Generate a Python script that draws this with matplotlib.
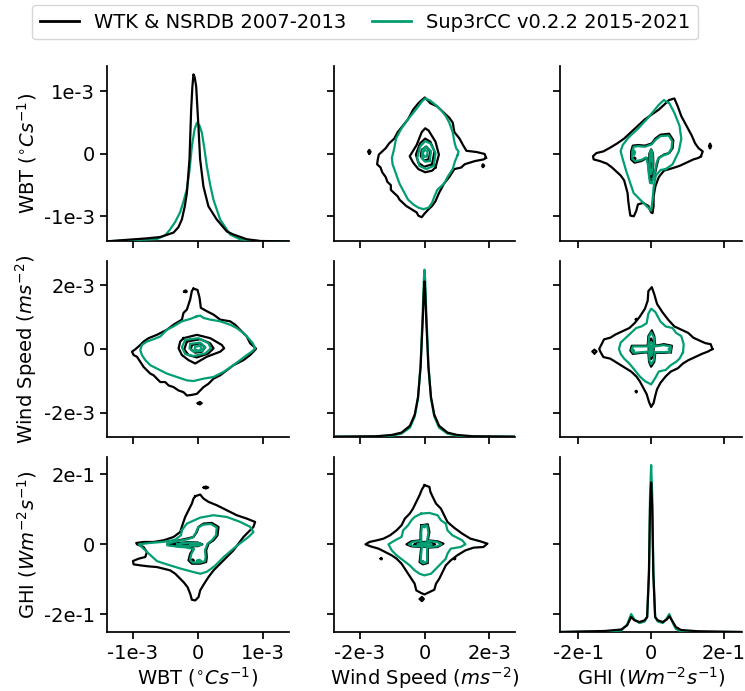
import matplotlib.pyplot as plt
from matplotlib.lines import Line2D

BLACK = '#000000'
GREEN = '#029e73'

# variables (values below are in units of the scale factor)
var_labels = [r'WBT ($^{\circ}Cs^{-1}$)', r'Wind Speed ($ms^{-2}$)', r'GHI ($Wm^{-2}s^{-1}$)']
var_scale = [1e-3, 1e-3, 1e-1]
xlims = [1.4, 2.8, 2.5]
ylims = [1.4, 2.75, 2.5]
tick_pos = [[-1, 0, 1], [-2, 0, 2], [-2, 0, 2]]
tick_labels = [['-1e-3', '0', '1e-3'], ['-2e-3', '0', '2e-3'], ['-2e-1', '0', '2e-1']]
series_names = ['WTK & NSRDB 2007-2013', 'Sup3rCC v0.2.2 2015-2021']

# diagonal densities
wbt_x_wtk = [-1.40, -0.785, -0.58, -0.375, -0.30, -0.246, -0.20, -0.169, -0.129, -0.103, -0.085,
             -0.068, -0.05, -0.026, 0.009, 0.035, 0.086, 0.163, 0.29, 0.446, 0.548, 0.754, 0.96, 1.40]
wbt_d_wtk = [0, 0.057, 0.082, 0.167, 0.27, 0.42, 0.68, 0.93, 1.57, 2.53, 2.95,
             3.20, 3.15, 2.97, 2.20, 1.57, 1.05, 0.67, 0.42, 0.19, 0.13, 0.04, 0.006, 0]
wbt_x_sup = [-1.4, -0.63, -0.50, -0.426, -0.35, -0.272, -0.22, -0.169, -0.13, -0.092, -0.05, -0.015,
             0.025, 0.062, 0.10, 0.138, 0.19, 0.24, 0.343, 0.497, 0.65, 0.96, 1.4]
wbt_d_sup = [0, 0.044, 0.12, 0.23, 0.37, 0.56, 0.77, 1.0, 1.35, 1.82, 2.15, 2.27,
             2.22, 2.08, 1.78, 1.44, 1.08, 0.80, 0.42, 0.13, 0.04, 0.005, 0]

wind_x = [-2.8, -1.5, -1.01, -0.71, -0.45, -0.30, -0.20, -0.12, -0.05, -0.02, 0,
          0.02, 0.05, 0.12, 0.20, 0.30, 0.45, 0.71, 1.01, 1.5, 2.8]
wind_d_wtk = [0, 0.008, 0.036, 0.086, 0.23, 0.47, 0.84, 1.48, 2.55, 3.10, 3.30,
              3.10, 2.55, 1.48, 0.84, 0.47, 0.23, 0.086, 0.036, 0.008, 0]
wind_d_sup = [0, 0.004, 0.02, 0.064, 0.19, 0.43, 0.81, 1.54, 2.74, 3.35, 3.55,
              3.35, 2.74, 1.54, 0.81, 0.43, 0.19, 0.064, 0.02, 0.004, 0]

ghi_x = [-2.5, -1.28, -0.82, -0.66, -0.55, -0.46, -0.32, -0.18, -0.11, -0.06, -0.03, 0,
         0.03, 0.06, 0.11, 0.18, 0.32, 0.43, 0.50, 0.60, 0.68, 0.82, 1.28, 2.5]
ghi_d_wtk = [0, 0.04, 0.10, 0.27, 0.60, 0.47, 0.40, 0.47, 0.60, 2.32, 5.0, 6.0,
             5.0, 2.32, 0.60, 0.47, 0.40, 0.50, 0.63, 0.40, 0.20, 0.08, 0.03, 0]
ghi_d_sup = [0, 0.02, 0.06, 0.30, 0.72, 0.50, 0.36, 0.42, 0.60, 2.5, 5.5, 6.7,
             5.5, 2.5, 0.60, 0.42, 0.36, 0.55, 0.72, 0.35, 0.12, 0.03, 0.0, 0]

# KDE contour outlines, (x, y) with lower-index variable on x
wbt_wind_wtk = [
    [(-0.067, 1.894), (-0.005, 1.852), (0.026, 1.608), (0.046, 1.291), (0.138, 1.185), (0.241, 1.079),
     (0.344, 0.921), (0.497, 0.868), (0.574, 0.762), (0.651, 0.603), (0.754, 0.392), (0.805, 0.180),
     (0.897, 0.011), (0.856, -0.085), (0.805, -0.190), (0.703, -0.349), (0.549, -0.508), (0.446, -0.667),
     (0.344, -0.825), (0.241, -0.931), (0.164, -1.090), (0.087, -1.196), (0.036, -1.302), (-0.015, -1.407),
     (-0.092, -1.439), (-0.169, -1.460), (-0.221, -1.354), (-0.297, -1.302), (-0.374, -1.196),
     (-0.451, -1.143), (-0.503, -1.037), (-0.579, -1.037), (-0.631, -0.931), (-0.682, -0.825),
     (-0.733, -0.772), (-0.785, -0.667), (-0.836, -0.561), (-0.887, -0.402), (-0.938, -0.243),
     (-0.990, -0.190), (-1.015, -0.085), (-0.964, -0.011), (-0.887, 0.127), (-0.836, 0.233),
     (-0.759, 0.339), (-0.631, 0.444), (-0.477, 0.603), (-0.374, 0.762), (-0.246, 0.921),
     (-0.221, 1.132), (-0.169, 1.238), (-0.118, 1.556), (-0.092, 1.820)],
    [(-0.221, 0.339), (-0.015, 0.444), (0.190, 0.339), (0.369, 0.127), (0.405, 0.021), (0.344, -0.085),
     (0.138, -0.243), (-0.041, -0.455), (-0.144, -0.349), (-0.246, -0.190), (-0.297, 0.021), (-0.272, 0.233)],
    [(-0.169, 0.233), (0.036, 0.307), (0.190, 0.180), (0.241, 0.021), (0.164, -0.138), (-0.015, -0.265),
     (-0.144, -0.190), (-0.210, -0.011)],
    [(-0.092, 0.127), (0.036, 0.180), (0.113, 0.053), (0.062, -0.085), (-0.041, -0.116), (-0.108, -0.011)],
    [(-0.21, 1.80), (-0.19, 1.84), (-0.17, 1.80), (-0.19, 1.78)],
    [(0.0, -1.70), (0.03, -1.66), (0.06, -1.70), (0.03, -1.74)],
]
wbt_wind_sup = [
    [(-0.015, 1.026), (0.036, 1.048), (0.087, 0.974), (0.190, 0.921), (0.344, 0.868), (0.497, 0.762),
     (0.600, 0.656), (0.703, 0.497), (0.779, 0.339), (0.846, 0.180), (0.882, 0.021), (0.831, -0.085),
     (0.754, -0.190), (0.651, -0.349), (0.549, -0.508), (0.395, -0.720), (0.241, -0.878), (0.087, -0.931),
     (-0.067, -1.005), (-0.169, -0.984), (-0.323, -0.878), (-0.477, -0.772), (-0.631, -0.614),
     (-0.733, -0.508), (-0.810, -0.349), (-0.862, -0.190), (-0.887, -0.032), (-0.862, 0.127),
     (-0.785, 0.233), (-0.682, 0.307), (-0.579, 0.392), (-0.477, 0.603), (-0.374, 0.709),
     (-0.246, 0.868), (-0.118, 0.942)],
    [(-0.195, 0.286), (0.010, 0.339), (0.164, 0.180), (0.200, 0.021), (0.113, -0.138), (-0.067, -0.222),
     (-0.195, -0.159), (-0.246, 0.053)],
    [(-0.118, 0.159), (0.036, 0.201), (0.113, 0.053), (0.062, -0.063), (-0.067, -0.085), (-0.128, 0.021)],
    [(-0.041, 0.074), (0.036, 0.095), (0.062, 0.011), (0.010, -0.053), (-0.051, -0.011)],
]

wbt_ghi_wtk = [
    [(-0.041, 1.371), (0.036, 1.419), (0.087, 1.305), (0.164, 1.210), (0.292, 1.114), (0.446, 0.971),
     (0.600, 0.829), (0.754, 0.733), (0.882, 0.638), (0.856, 0.495), (0.779, 0.352), (0.703, 0.210),
     (0.626, 0.019), (0.549, -0.171), (0.446, -0.362), (0.344, -0.552), (0.241, -0.743), (0.164, -0.933),
     (0.097, -1.124), (0.036, -1.314), (0.010, -1.505), (-0.041, -1.600), (-0.092, -1.581),
     (-0.118, -1.410), (-0.159, -1.219), (-0.221, -1.076), (-0.272, -0.981), (-0.349, -0.838),
     (-0.426, -0.743), (-0.528, -0.695), (-0.631, -0.648), (-0.759, -0.629), (-0.887, -0.600),
     (-0.990, -0.571), (-1.000, -0.476), (-0.913, -0.410), (-0.810, -0.362), (-0.785, -0.219),
     (-0.836, -0.076), (-0.938, 0.000), (-0.949, 0.038), (-0.836, 0.067), (-0.682, 0.067),
     (-0.528, 0.114), (-0.374, 0.210), (-0.272, 0.352), (-0.231, 0.590), (-0.195, 0.781),
     (-0.144, 0.971), (-0.092, 1.162), (-0.067, 1.305)],
    [(-0.426, 0.019), (-0.297, 0.114), (-0.169, 0.162), (-0.067, 0.210), (-0.015, 0.352), (0.010, 0.495),
     (0.087, 0.590), (0.215, 0.610), (0.318, 0.495), (0.303, 0.257), (0.241, 0.114), (0.164, 0.019),
     (0.128, -0.171), (0.138, -0.362), (0.128, -0.505), (0.036, -0.552), (-0.092, -0.552),
     (-0.144, -0.457), (-0.118, -0.267), (-0.067, -0.124), (-0.169, -0.076), (-0.297, -0.057),
     (-0.426, -0.029)],
    [(-0.37, 0.0), (-0.30, 0.04), (-0.15, 0.06), (0.0, 0.05), (0.07, 0.0), (0.0, -0.05), (-0.15, -0.06),
     (-0.30, -0.04)],
    [(-0.22, 0.0), (-0.15, 0.025), (-0.05, 0.02), (-0.02, 0.0), (-0.05, -0.02), (-0.15, -0.025)],
    [(0.09, 1.62), (0.12, 1.65), (0.16, 1.62), (0.12, 1.59)],
    [(-0.10, -0.46), (-0.08, -0.43), (-0.06, -0.46), (-0.08, -0.49)],
]
wbt_ghi_sup = [
    [(-0.247, 0.40), (-0.17, 0.59), (0.035, 0.76), (0.24, 0.83), (0.446, 0.78), (0.651, 0.64),
     (0.804, 0.50), (0.856, 0.35), (0.78, 0.21), (0.68, 0.07), (0.55, -0.12), (0.40, -0.36),
     (0.26, -0.62), (0.14, -0.78), (0.04, -0.84), (-0.09, -0.78), (-0.27, -0.69), (-0.48, -0.57),
     (-0.63, -0.48), (-0.73, -0.31), (-0.84, -0.12), (-0.91, 0.0), (-0.73, 0.04), (-0.53, 0.07),
     (-0.35, 0.13), (-0.26, 0.26)],
    [(-0.47, 0.02), (-0.30, 0.10), (-0.17, 0.14), (-0.08, 0.19), (-0.03, 0.33), (0.00, 0.47),
     (0.08, 0.56), (0.20, 0.58), (0.29, 0.48), (0.28, 0.26), (0.22, 0.12), (0.15, 0.02),
     (0.11, -0.17), (0.12, -0.36), (0.11, -0.48), (0.03, -0.52), (-0.08, -0.52), (-0.12, -0.44),
     (-0.10, -0.27), (-0.06, -0.14), (-0.17, -0.09), (-0.30, -0.07), (-0.47, -0.03)],
    [(-0.32, 0.0), (-0.25, 0.035), (-0.12, 0.045), (0.02, 0.035), (0.06, 0.0), (0.02, -0.035),
     (-0.12, -0.045), (-0.25, -0.035)],
    [(-0.12, 0.0), (-0.06, 0.02), (0.0, 0.0), (-0.06, -0.02)],
    [(-0.01, -0.47), (0.02, -0.44), (0.05, -0.47), (0.02, -0.50)],
]

wind_ghi_wtk = [
    [(0.000, 1.686), (0.152, 1.638), (0.182, 1.495), (0.253, 1.352), (0.354, 1.162), (0.505, 1.019),
     (0.606, 0.829), (0.707, 0.638), (0.909, 0.476), (1.162, 0.305), (1.414, 0.162), (1.717, 0.086),
     (1.939, 0.019), (1.818, -0.076), (1.515, -0.095), (1.263, -0.171), (1.010, -0.314), (0.808, -0.457),
     (0.657, -0.600), (0.556, -0.790), (0.455, -0.981), (0.354, -1.124), (0.303, -1.295), (0.152, -1.362),
     (0.000, -1.429), (-0.101, -1.390), (-0.253, -1.314), (-0.303, -1.124), (-0.404, -0.981),
     (-0.505, -0.838), (-0.606, -0.695), (-0.707, -0.552), (-0.859, -0.410), (-1.010, -0.314),
     (-1.212, -0.219), (-1.414, -0.124), (-1.667, -0.057), (-1.818, 0.000), (-1.697, 0.067),
     (-1.465, 0.114), (-1.263, 0.162), (-1.061, 0.257), (-0.859, 0.400), (-0.707, 0.543),
     (-0.606, 0.733), (-0.455, 0.876), (-0.354, 1.019), (-0.253, 1.210), (-0.152, 1.400),
     (-0.081, 1.562)],
    [(-0.101, 0.543), (0.101, 0.571), (0.152, 0.352), (0.101, 0.114), (0.404, 0.086), (0.586, 0.019),
     (0.404, -0.076), (0.101, -0.095), (0.101, -0.314), (0.101, -0.533), (-0.051, -0.571),
     (-0.152, -0.505), (-0.121, -0.267), (-0.101, -0.076), (-0.404, -0.057), (-0.556, 0.000),
     (-0.404, 0.086), (-0.121, 0.114), (-0.121, 0.352)],
    [(-0.30, 0.0), (-0.2, 0.05), (0.0, 0.07), (0.2, 0.05), (0.33, 0.0), (0.2, -0.05), (0.0, -0.07),
     (-0.2, -0.05)],
    [(-0.14, -1.56), (-0.08, -1.50), (-0.02, -1.56), (-0.08, -1.62)],
    [(-1.35, -0.41), (-1.33, -0.39), (-1.31, -0.41), (-1.33, -0.43)],
    [(0.91, -0.41), (0.93, -0.39), (0.95, -0.41), (0.93, -0.43)],
]
wind_ghi_sup = [
    [(-0.101, 0.876), (0.152, 0.895), (0.404, 0.829), (0.505, 0.686), (0.657, 0.590), (0.707, 0.400),
     (0.859, 0.257), (1.162, 0.114), (1.263, 0.000), (1.111, -0.076), (0.808, -0.124), (0.707, -0.267),
     (0.657, -0.410), (0.505, -0.552), (0.354, -0.695), (0.202, -0.838), (0.000, -0.886), (-0.152, -0.838),
     (-0.303, -0.743), (-0.455, -0.600), (-0.657, -0.457), (-0.859, -0.314), (-1.010, -0.171),
     (-1.111, 0.000), (-0.909, 0.114), (-0.707, 0.210), (-0.657, 0.400), (-0.505, 0.543),
     (-0.404, 0.686), (-0.303, 0.781)],
    [(-0.08, 0.52), (0.08, 0.54), (0.12, 0.34), (0.08, 0.10), (0.38, 0.07), (0.52, 0.0), (0.38, -0.06),
     (0.08, -0.08), (0.08, -0.30), (0.08, -0.50), (-0.03, -0.54), (-0.12, -0.48), (-0.10, -0.26),
     (-0.08, -0.06), (-0.36, -0.045), (-0.48, 0.0), (-0.36, 0.07), (-0.10, 0.10), (-0.10, 0.34)],
    [(-0.2, 0.0), (-0.1, 0.04), (0.05, 0.05), (0.18, 0.03), (0.22, 0.0), (0.15, -0.04), (0.0, -0.05),
     (-0.12, -0.04)],
    [(-0.08, 0.0), (0.0, 0.02), (0.1, 0.0), (0.0, -0.02)],
    [(-0.03, 0.51), (0.0, 0.54), (0.03, 0.51), (0.0, 0.48)],
    [(-0.08, -0.50), (-0.05, -0.47), (-0.02, -0.50), (-0.05, -0.53)],
]

diag = {
    0: ((wbt_x_wtk, wbt_d_wtk), (wbt_x_sup, wbt_d_sup)),
    1: ((wind_x, wind_d_wtk), (wind_x, wind_d_sup)),
    2: ((ghi_x, ghi_d_wtk), (ghi_x, ghi_d_sup)),
}
pairs = {
    (0, 1): (wbt_wind_wtk, wbt_wind_sup),
    (0, 2): (wbt_ghi_wtk, wbt_ghi_sup),
    (1, 2): (wind_ghi_wtk, wind_ghi_sup),
}

plt.rcParams['font.size'] = 14
fig, axes = plt.subplots(3, 3, figsize=(7.45, 6.91), dpi=100, sharex='col', sharey='row')
fig.subplots_adjust(left=0.1436, right=0.996, top=0.9045, bottom=0.0854, wspace=0.247, hspace=0.114)


def draw_contours(ax, contours, color, swap, sx, sy):
    for c in contours:
        xs = [p[0] for p in c] + [c[0][0]]
        ys = [p[1] for p in c] + [c[0][1]]
        if swap:
            xs, ys = ys, xs
        ax.plot([v * sx for v in xs], [v * sy for v in ys], color=color, lw=1.6)


for i in range(3):
    for j in range(3):
        ax = axes[i, j]
        for s in ['top', 'right']:
            ax.spines[s].set_visible(False)
        for s in ['left', 'bottom']:
            ax.spines[s].set_linewidth(1.25)
        ax.tick_params(width=1.25, length=5)
        if i == j:
            dax = ax.twinx()
            (xw, dw), (xs_, ds) = diag[i]
            dax.plot([v * var_scale[i] for v in xs_], ds, color=GREEN, lw=1.6)
            dax.plot([v * var_scale[i] for v in xw], dw, color=BLACK, lw=1.6)
            dax.set_ylim(0, max(max(dw), max(ds)) * 1.05)
            dax.set_yticks([])
            for s in dax.spines.values():
                s.set_visible(False)
        else:
            a, b = min(i, j), max(i, j)
            wtk, sup = pairs[(a, b)]
            swap = i < j
            draw_contours(ax, wtk, BLACK, swap, var_scale[j], var_scale[i])
            draw_contours(ax, sup, GREEN, swap, var_scale[j], var_scale[i])

for k in range(3):
    axes[k, 0].set_ylim(-ylims[k] * var_scale[k], ylims[k] * var_scale[k])
    axes[k, 0].set_yticks([t * var_scale[k] for t in tick_pos[k]], tick_labels[k])
    axes[k, 0].set_ylabel(var_labels[k])
    axes[0, k].set_xlim(-xlims[k] * var_scale[k], xlims[k] * var_scale[k])
    axes[2, k].set_xticks([t * var_scale[k] for t in tick_pos[k]], tick_labels[k])
    axes[2, k].set_xlabel(var_labels[k], labelpad=2)

handles = [Line2D([], [], color=BLACK, lw=2), Line2D([], [], color=GREEN, lw=2)]
fig.legend(handles, series_names, loc='center', bbox_to_anchor=(0.49, 0.968), ncol=2,
           fontsize=14, columnspacing=1.3)

fig.savefig('out.png', dpi=100)
